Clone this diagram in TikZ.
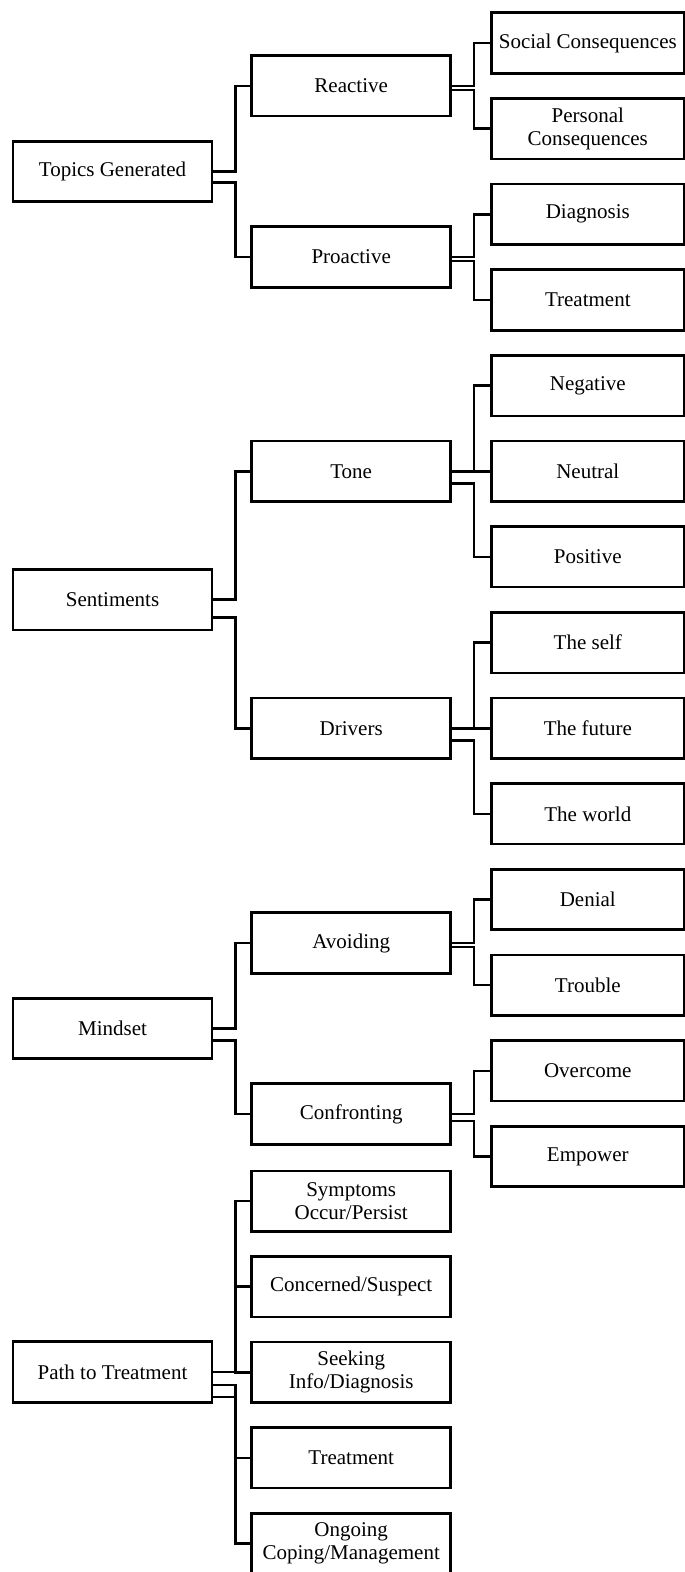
\documentclass[tikz,border=0pt]{standalone}
\usepackage{fontspec}
\setmainfont{Liberation Serif}
\usetikzlibrary{positioning}
\tikzset{
  every picture/.style={line width=2.6pt},
  box/.style={draw, fill=white, align=center, inner sep=2pt, minimum width=#1, minimum height=60.5pt, font=\fontsize{21}{23}\selectfont},
  box/.default=199pt,
  link/.style={draw, line join=miter},
}
\begin{document}
\begin{tikzpicture}[x=1pt, y=-1pt]
  \useasboundingbox (0,0) rectangle (685,1572);
  % roots
  \node[box] (topics) at (112.5, 171.5) {Topics Generated};
  \node[box] (senti) at (112.5, 599.7) {Sentiments};
  \node[box] (mind) at (112.5, 1028.5) {Mindset};
  \node[box] (path) at (112.5, 1372) {Path to Treatment};
  % second level
  \node[box] (react) at (351.2, 85.8) {Reactive};
  \node[box] (proact) at (351.2, 257) {Proactive};
  \node[box] (tone) at (351.2, 471.3) {Tone};
  \node[box] (drivers) at (351.2, 728.2) {Drivers};
  \node[box] (avoid) at (351.2, 943) {Avoiding};
  \node[box] (confront) at (351.2, 1114) {Confronting};
  \foreach \t [count=\i] in {Symptoms\\Occur/Persist, Concerned/Suspect, Seeking\\Info/Diagnosis, Treatment, Ongoing\\Coping/Management}
    \node[box] (p\i) at (351.2, 1115.5+85.6*\i) {\t};
  % leaves
  \foreach \t [count=\i from 0] in {Social Consequences, Personal\\Consequences, Diagnosis, Treatment, Negative, Neutral, Positive, The self, The future, The world, Denial, Trouble, Overcome, Empower}
    \node[box=192.5pt] (t\i) at (587.8, 43+85.65*\i) {\t};
  % elbow connectors
  \foreach \p/\c/\o in {topics/react/0, topics/proact/11, react/t0/0, react/t1/4, proact/t2/0, proact/t3/4,
    senti/tone/0, senti/drivers/18, tone/t4/0, tone/t5/0, tone/t6/12, drivers/t7/0, drivers/t8/0, drivers/t9/12,
    mind/avoid/0, mind/confront/12, avoid/t10/0, avoid/t11/4, confront/t12/0, confront/t13/7,
    path/p1/0, path/p2/0, path/p3/0, path/p4/13, path/p5/25}
    \draw[link] ([yshift=-\o pt]\p.east) -- ++(22,0) |- (\c.west);
\end{tikzpicture}
\end{document}
